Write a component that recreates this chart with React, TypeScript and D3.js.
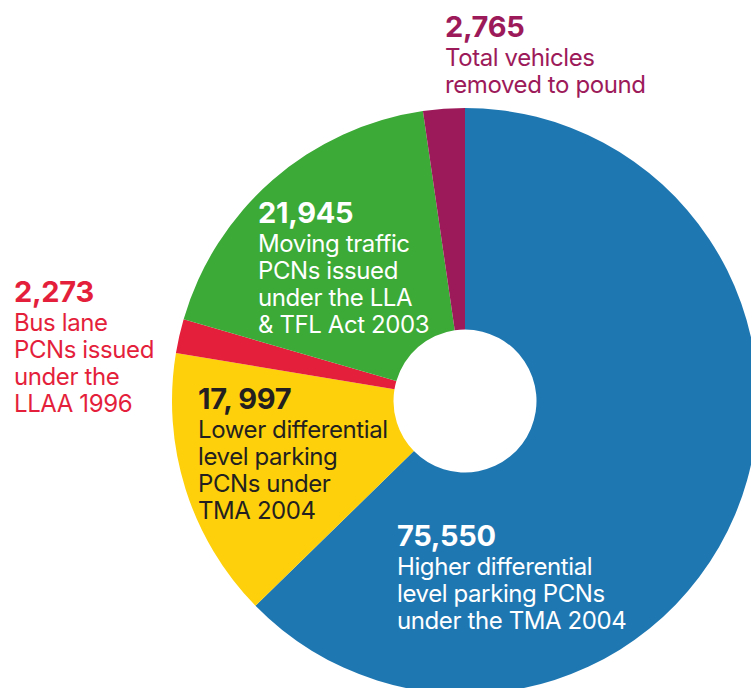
import React, { useEffect, useRef } from "react";
import * as d3 from "d3";

// 조각 순서: 12시 방향부터 시계방향
const categories = ["higher", "lower", "busLane", "moving", "removed"];
const values = [75550, 17997, 2273, 21945, 2765];
const valueLabels = ["75,550", "17, 997", "2,273", "21,945", "2,765"];
const descriptions = [
  ["Higher differential", "level parking PCNs", "under the TMA 2004"],
  ["Lower differential", "level parking", "PCNs under", "TMA 2004"],
  ["Bus lane", "PCNs issued", "under the", "LLAA 1996"],
  ["Moving traffic", "PCNs issued", "under the LLA", "& TFL Act 2003"],
  ["Total vehicles", "removed to pound"],
];

const colors = ["#1f77b2", "#fdd00b", "#e41f3c", "#3caa36", "#9d1a5a"];
const textColors = ["#ffffff", "#231f20", "#e41f3c", "#ffffff", "#9d1a5a"];
// 라벨 위치 (숫자 기준선)
const labelPos: [number, number][] = [
  [397, 546],
  [198, 409],
  [14, 302],
  [258, 223],
  [445, 37],
];

const App: React.FC = () => {
  const ref = useRef<SVGSVGElement>(null);

  useEffect(() => {
    if (!ref.current) return;
    const svg = d3.select(ref.current);
    svg.selectAll("*").remove();

    const cx = 465;
    const cy = 401;
    const outer = 293;
    const inner = 71.5;

    const data = categories.map((c, i) => ({ key: c, value: values[i] }));
    const pie = d3.pie<{ key: string; value: number }>().sort(null).value((d) => d.value);
    const arc = d3.arc<d3.PieArcDatum<{ key: string; value: number }>>()
      .innerRadius(inner)
      .outerRadius(outer);

    const g = svg.append("g").attr("transform", `translate(${cx},${cy})`);
    g.selectAll("path")
      .data(pie(data))
      .join("path")
      .attr("d", arc)
      .attr("fill", (_, i) => colors[i]);

    // 라벨
    const labels = svg.selectAll(".label")
      .data(categories)
      .join("text")
      .attr("class", "label")
      .attr("font-family", "Inter, Roboto, sans-serif")
      .attr("fill", (_, i) => textColors[i]);

    labels.each(function (_, i) {
      const t = d3.select(this);
      const [x, y] = labelPos[i];
      t.append("tspan")
        .attr("x", x)
        .attr("y", y)
        .attr("font-size", 29)
        .attr("font-weight", 700)
        .attr("letter-spacing", -0.3)
        .text(valueLabels[i]);
      descriptions[i].forEach((line, j) => {
        t.append("tspan")
          .attr("x", x)
          .attr("y", y + 28.5 + j * 27.3)
          .attr("font-size", 24)
          .attr("letter-spacing", -0.4)
          .text(line);
      });
    });
  }, []);

  return (
    <svg
      ref={ref}
      width={751}
      height={688}
      style={{ position: "absolute", left: 0, top: 0, background: "#fff" }}
    />
  );
};

export default App;
